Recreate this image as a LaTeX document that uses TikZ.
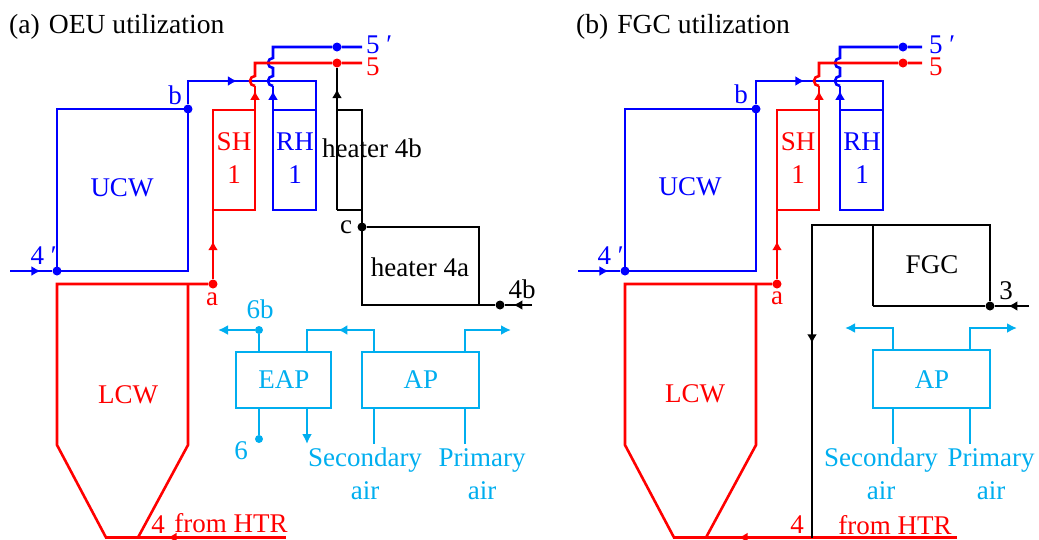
\documentclass[tikz,border=0pt]{standalone}
\usepackage{fontspec}
\setmainfont{Liberation Serif}
\usetikzlibrary{arrows.meta,decorations.markings}
\definecolor{airblue}{RGB}{0,174,239}
\tikzset{
  pipe/.style={line width=2.6pt,line join=miter},
  lbl/.style={inner sep=0pt,font=\fontsize{27}{30}\selectfont},
  titlelbl/.style={inner sep=0pt,anchor=west,font=\fontsize{27.6}{30}\selectfont},
  dot/.style={circle,fill,inner sep=0pt,minimum size=9pt},
  airbox/.style={pipe,draw=airblue,inner sep=0pt,outer sep=0pt,anchor=north west},
  endtip/.style={-{Latex[length=10pt,width=10pt]}},
  tipat/.style={postaction={decorate},decoration={markings,
    mark=at position #1 with {\arrow{Latex[length=9pt,width=10pt]}}}}
}
\newcommand{\hump}{arc[start angle=90,end angle=270,radius=5]}
\newcommand{\primed}[1]{#1\hspace{5pt}\smash{\textit{′}}}
\begin{document}
\begin{tikzpicture}[x=1pt,y=-1pt]
\useasboundingbox (0,0) rectangle (1039,539);
% panel a
\node[titlelbl] (tita) at (9,27) {(a)\hspace{9pt}OEU utilization};
% junctions a
\node[dot,blue] (d4a) at (57,271) {};
\node[dot,blue] (dba) at (188,109) {};
\node[dot,red] (daa) at (213,284) {};
\node[dot,blue] (d5pa) at (337,47) {};
\node[dot,red] (d5a) at (337,63) {};
\node[dot] (dca) at (362,227) {};
\node[dot] (d4ba) at (500,305) {};
\coordinate (xra) at (255,81);
\coordinate (xba) at (273,81);
\coordinate (xta) at (273,63);
% blue a
\coordinate (in4a) at (10,271);
\coordinate (ucwbra) at (188,271);
\coordinate (ucwtla) at (57,109);
\coordinate (rhtra) at (316,81);
\coordinate (end5pa) at (362,47);
\coordinate (cor5pa) at (273,47);
\coordinate (rhla) at (273,110);
\coordinate (rhra) at (316,110);
\coordinate (rhbla) at (273,210);
\coordinate (rhbra) at (316,210);
\draw[pipe,blue,tipat=.72] (in4a) -- (d4a);
\draw[pipe,blue] (d4a.center) -- (ucwbra) -- (dba.center) -- (ucwtla) -- (d4a.center);
\draw[pipe,blue,tipat=.8] (dba) |- (xra);
\draw[pipe,blue] (xra) -- (rhtra) -- (rhbra) -- (rhbla) -- (rhla) -- (rhra);
\draw[pipe,blue,tipat=.8] (rhla) -- ([yshift=-5pt]xba);
\draw[pipe,blue] ([yshift=-5pt]xba) \hump -- ([yshift=-5pt]xta) \hump -- (cor5pa) -- (d5pa) -- (end5pa);
% red a
\coordinate (lcwtla) at (57,284);
\coordinate (lcwbla) at (57,445);
\coordinate (lcwtra) at (188,284);
\coordinate (lcwbra) at (188,445);
\coordinate (botla) at (106,537.5);
\coordinate (botra) at (138,537.5);
\coordinate (enda) at (286,537.5);
\coordinate (shtla) at (213,110);
\coordinate (shtra) at (255,110);
\coordinate (shbla) at (213,210);
\coordinate (shbra) at (255,210);
\coordinate (cor5a) at (255,63);
\coordinate (end5a) at (362,63);
\draw[pipe,red,tipat=.55] (daa) -- (shbla);
\draw[pipe,red] (shbla) -- (shtla) -- (shtra) -- (shbra) -- (shbla);
\draw[pipe,red,tipat=.8] (shtra) -- ([yshift=-5pt]xra);
\draw[pipe,red] ([yshift=-5pt]xra) \hump -- (cor5a) -- (d5a) -- (end5a);
\draw[pipe,red] (daa) -- (lcwtla) -- (lcwbla) -- (botla) -- (botra);
\draw[pipe,red] (lcwtra) -- (lcwbra) -- (botra);
\draw[pipe,red,tipat=.8] (enda) -- (botra);
% black a
\coordinate (h4bla) at (337,110);
\coordinate (h4bra) at (362,110);
\coordinate (h4bba) at (337,210);
\coordinate (h4brb) at (362,210);
\coordinate (h4atr) at (479,227);
\coordinate (h4abr) at (479,305);
\coordinate (h4abl) at (362,305);
\coordinate (in4ba) at (532,305);
\draw[pipe,tipat=.85] (h4bba) -- (d5a);
\draw[pipe] (h4bba) -- (h4brb) -- (h4bra) -- (h4bla);
\draw[pipe] (h4bra) -- (h4abl) -- (d4ba);
\draw[pipe] (dca) -- (h4atr) -- (h4abr);
\draw[pipe,tipat=.68] (in4ba) -- (d4ba);
% air a
\node[airbox,minimum width=95pt,minimum height=56pt] (eap) at (236,352) {};
\node[airbox,minimum width=117pt,minimum height=56pt] (apa) at (362,352) {};
\node[dot,airblue,minimum size=8pt] (d6ba) at (259,330) {};
\node[dot,airblue,minimum size=8pt] (d6a) at (259,439) {};
\coordinate (o6ba) at (218,330);
\coordinate (eaptr) at (307,352);
\coordinate (eapcr) at (307,330);
\coordinate (eapbr) at (307,408);
\coordinate (eapdn) at (307,444);
\coordinate (apcl) at (374,330);
\coordinate (aptl) at (374,352);
\coordinate (apbl) at (374,408);
\coordinate (secl) at (374,444);
\coordinate (aptr) at (465,352);
\coordinate (apcr) at (465,330);
\coordinate (apbr) at (465,408);
\coordinate (prir) at (465,444);
\coordinate (oaa) at (511,330);
\draw[pipe,airblue] (d6ba) -- (eap.north -| d6ba);
\draw[pipe,airblue] (d6a) -- (eap.south -| d6a);
\draw[pipe,airblue,endtip] (d6ba) -- (o6ba);
\draw[pipe,airblue,tipat=.52] (aptl) -- (apcl) -- (eapcr) -- (eaptr);
\draw[pipe,airblue,endtip] (eapbr) -- (eapdn);
\draw[pipe,airblue] (apbl) -- (secl);
\draw[pipe,airblue] (apbr) -- (prir);
\draw[pipe,airblue,endtip] (aptr) -- (apcr) -- (oaa);
% labels a
\node[lbl,blue] (ucwa) at (122,188) {UCW};
\node[lbl,red] (lcwa) at (128,395) {LCW};
\node[lbl,red] (sha) at (234,142) {SH};
\node[lbl,red] (sh1a) at (234,175) {1};
\node[lbl,blue] (rha) at (295,142) {RH};
\node[lbl,blue] (rh1a) at (295,175) {1};
\node[lbl] (h4b) at (372,148) {heater 4b};
\node[lbl] (h4a) at (420,267) {heater 4a};
\node[lbl,blue,anchor=west] (l5pa) at (366,45) {\primed{5}};
\node[lbl,red,anchor=west] (l5a) at (366,67) {5};
\node[lbl,blue] (l4pa) at (43,256) {\primed{4}};
\node[lbl,blue] (lba) at (175,95) {b};
\node[lbl,red] (laa) at (212,299) {a};
\node[lbl] (lca) at (346,227) {c};
\node[lbl] (l4ba) at (522,289) {4b};
\node[lbl,red] (l4a) at (158,525) {4};
\node[lbl,red] (fha) at (231,523) {from HTR};
\node[lbl,airblue] (l6ba) at (260,309) {6b};
\node[lbl,airblue] (l6a) at (241,451) {6};
\node[lbl,airblue] (leap) at (284,380) {EAP};
\node[lbl,airblue] (lapa) at (421,380) {AP};
\node[lbl,airblue] (lseca) at (365,460) {Secondary};
\node[lbl,airblue] (lsaa) at (365,491) {air};
\node[lbl,airblue] (lpria) at (482,460) {Primary};
\node[lbl,airblue] (lpaa) at (482,491) {air};
% panel b
\node[titlelbl] (titb) at (576,27) {(b)\hspace{9pt}FGC utilization};
\node[dot,blue] (d4b) at (625,271) {};
\node[dot,blue] (dbb) at (756,109) {};
\node[dot,red] (dab) at (777,284) {};
\node[dot,blue] (d5pb) at (903,47) {};
\node[dot,red] (d5b) at (903,63) {};
\node[dot] (d3b) at (990,306) {};
\coordinate (xrb) at (819,81);
\coordinate (xbb) at (840,81);
\coordinate (xtb) at (840,63);
% blue b
\coordinate (in4b) at (578,271);
\coordinate (ucwbrb) at (756,271);
\coordinate (ucwtlb) at (625,109);
\coordinate (rhtrb) at (883,81);
\coordinate (end5pb) at (922,47);
\coordinate (cor5pb) at (840,47);
\coordinate (rhlb) at (840,110);
\coordinate (rhrb) at (883,110);
\coordinate (rhblb) at (840,210);
\coordinate (rhbrb) at (883,210);
\draw[pipe,blue,tipat=.72] (in4b) -- (d4b);
\draw[pipe,blue] (d4b.center) -- (ucwbrb) -- (dbb.center) -- (ucwtlb) -- (d4b.center);
\draw[pipe,blue,tipat=.83] (dbb) |- (xrb);
\draw[pipe,blue] (xrb) -- (rhtrb) -- (rhbrb) -- (rhblb) -- (rhlb) -- (rhrb);
\draw[pipe,blue,tipat=.8] (rhlb) -- ([yshift=-5pt]xbb);
\draw[pipe,blue] ([yshift=-5pt]xbb) \hump -- ([yshift=-5pt]xtb) \hump -- (cor5pb) -- (d5pb) -- (end5pb);
% red b
\coordinate (lcwtlb) at (625,284);
\coordinate (lcwblb) at (625,445);
\coordinate (lcwtrb) at (756,284);
\coordinate (lcwbrb) at (756,445);
\coordinate (botlb) at (674,537.5);
\coordinate (botrb) at (706,537.5);
\coordinate (endb) at (957,537.5);
\coordinate (shtlb) at (777,110);
\coordinate (shtrb) at (819,110);
\coordinate (shblb) at (777,210);
\coordinate (shbrb) at (819,210);
\coordinate (cor5b) at (819,63);
\coordinate (end5b) at (922,63);
\draw[pipe,red,tipat=.55] (dab) -- (shblb);
\draw[pipe,red] (shblb) -- (shtlb) -- (shtrb) -- (shbrb) -- (shblb);
\draw[pipe,red,tipat=.8] (shtrb) -- ([yshift=-5pt]xrb);
\draw[pipe,red] ([yshift=-5pt]xrb) \hump -- (cor5b) -- (d5b) -- (end5b);
\draw[pipe,red] (dab) -- (lcwtlb) -- (lcwblb) -- (botlb) -- (botrb);
\draw[pipe,red] (lcwtrb) -- (lcwbrb) -- (botrb);
\draw[pipe,red,tipat=.87] (endb) -- (botrb);
% black b
\coordinate (fgctop) at (873,225);
\coordinate (fgcbl) at (873,306);
\coordinate (fgctr) at (990,225);
\coordinate (fgcout) at (812,225);
\coordinate (fgcdn) at (812,537.5);
\coordinate (in3b) at (1029,306);
\draw[pipe] (fgcbl) -- (fgctop) -- (fgctr) -- (d3b) -- (fgcbl);
\draw[pipe,tipat=.48] (fgctop) -- (fgcout) -- (fgcdn);
\draw[pipe,tipat=.6] (in3b) -- (d3b);
% air b
\node[airbox,minimum width=117pt,minimum height=58pt] (apb) at (873,350) {};
\coordinate (bptl) at (893,350);
\coordinate (bpcl) at (893,328);
\coordinate (obl) at (845,328);
\coordinate (bpbl) at (893,408);
\coordinate (bsecl) at (893,444);
\coordinate (bptr) at (970,350);
\coordinate (bpcr) at (970,328);
\coordinate (obr) at (1017,328);
\coordinate (bpbr) at (970,408);
\coordinate (bprir) at (970,444);
\draw[pipe,airblue,endtip] (bptl) -- (bpcl) -- (obl);
\draw[pipe,airblue,endtip] (bptr) -- (bpcr) -- (obr);
\draw[pipe,airblue] (bpbl) -- (bsecl);
\draw[pipe,airblue] (bpbr) -- (bprir);
% labels b
\node[lbl,blue] (ucwb) at (690,187) {UCW};
\node[lbl,red] (lcwb) at (695,394) {LCW};
\node[lbl,red] (shb) at (798,142) {SH};
\node[lbl,red] (sh1b) at (798,175) {1};
\node[lbl,blue] (rhb) at (862,142) {RH};
\node[lbl,blue] (rh1b) at (862,175) {1};
\node[lbl] (lfgc) at (932,265) {FGC};
\node[lbl] (l3b) at (1006,291) {3};
\node[lbl,blue,anchor=west] (l5pb) at (929,45) {\primed{5}};
\node[lbl,red,anchor=west] (l5b) at (929,67) {5};
\node[lbl,blue] (l4pb) at (610,256) {\primed{4}};
\node[lbl,blue] (lbb) at (741,94) {b};
\node[lbl,red] (lab) at (777,298) {a};
\node[lbl,red] (l4b) at (797,525) {4};
\node[lbl,red] (fhb) at (895,525) {from HTR};
\node[lbl,airblue] (lapb) at (932,380) {AP};
\node[lbl,airblue] (lsecb) at (881,460) {Secondary};
\node[lbl,airblue] (lsab) at (881,491) {air};
\node[lbl,airblue] (lprib) at (991,460) {Primary};
\node[lbl,airblue] (lpab) at (991,491) {air};
\end{tikzpicture}
\end{document}
